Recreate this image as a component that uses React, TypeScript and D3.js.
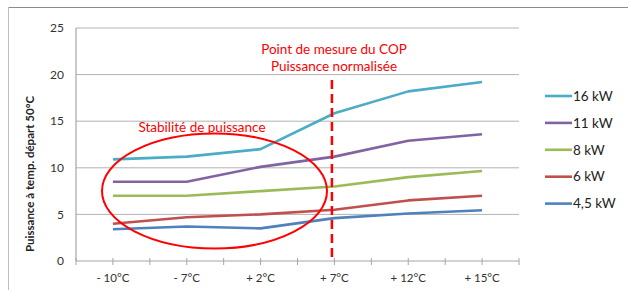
import React from "react";
import * as d3 from "d3";

const categories = ["- 10°C", "- 7°C", "+ 2°C", "+ 7°C", "+ 12°C", "+ 15°C"];
const yTicks = [0, 5, 10, 15, 20, 25];

const seriesNames = ["16 kW", "11 kW", "8 kW", "6 kW", "4,5 kW"];
const seriesColors = ["#4BACC6", "#8064A2", "#9BBB59", "#C0504D", "#4F81BD"];
const s16 = [10.9, 11.2, 12.0, 15.85, 18.2, 19.2];
const s11 = [8.5, 8.5, 10.1, 11.2, 12.9, 13.6];
const s8 = [7.0, 7.0, 7.5, 8.0, 9.0, 9.65];
const s6 = [4.0, 4.7, 5.0, 5.5, 6.5, 7.0];
const s45 = [3.4, 3.7, 3.5, 4.6, 5.1, 5.45];
const seriesValues = [s16, s11, s8, s6, s45];

const markerCategory = "+ 7°C";
const annotationLines = ["Point de mesure du COP", "Puissance normalisée"];
const ellipseLabel = "Stabilité de puissance";
const yTitle = "Puissance à temp. départ 50°C";

export default function App() {
  const W = 628, H = 290;
  const left = 76, right = 519, top = 28, bottom = 261;
  const x = d3.scaleBand().domain(categories).range([left, right]);
  const y = d3.scaleLinear().domain([0, 25]).range([bottom, top]);
  const cx = (c: string) => (x(c) as number) + x.bandwidth() / 2;
  const line = d3
    .line<number>()
    .x((_, i) => cx(categories[i]))
    .y((d) => y(d));

  const font = "Lato, 'Open Sans', sans-serif";
  const tickXs: number[] = [];
  categories.forEach((c) => {
    tickXs.push(x(c) as number);
    tickXs.push(cx(c));
  });
  tickXs.push(right);

  const mx = cx(markerCategory) - 2.5;

  return (
    <svg
      width={W}
      height={H}
      style={{ position: "absolute", left: 0, top: 0, background: "#fff" }}
      fontFamily={font}
    >
      {/* outer border */}
      <line x1={8} y1={7.5} x2={W} y2={7.5} stroke="#8c8c8c" strokeWidth={1} />
      <line x1={8.5} y1={7} x2={8.5} y2={H} stroke="#bdbdbd" strokeWidth={1} />

      {/* gridlines */}
      {yTicks.slice(1).map((t) => (
        <line key={t} x1={left} x2={right} y1={y(t)} y2={y(t)} stroke="#b3b3b3" strokeWidth={1} />
      ))}
      {/* axes */}
      <line x1={left} x2={left} y1={top} y2={bottom} stroke="#a6a6a6" strokeWidth={1.2} />
      <line x1={left} x2={right} y1={bottom} y2={bottom} stroke="#a6a6a6" strokeWidth={1.2} />
      {tickXs.map((t, i) => (
        <line key={i} x1={t} x2={t} y1={bottom - 3} y2={bottom + 4} stroke="#a6a6a6" strokeWidth={1} />
      ))}

      {/* y tick labels */}
      {yTicks.map((t) => (
        <text key={t} x={64} y={y(t)} dy="0.35em" textAnchor="end" fontSize={12} fill="#333">
          {t}
        </text>
      ))}
      {/* x tick labels */}
      {categories.map((c) => (
        <text key={c} x={cx(c)} y={282} textAnchor="middle" fontSize={11.5} fill="#333">
          {c}
        </text>
      ))}

      {/* y title */}
      <text
        transform={`translate(34, 174) rotate(-90)`}
        textAnchor="middle"
        fontSize={11.5}
        fontWeight="bold"
        fill="#222"
      >
        {yTitle}
      </text>

      {/* series */}
      {seriesValues.map((vals, i) => (
        <path
          key={seriesNames[i]}
          d={line(vals) as string}
          fill="none"
          stroke={seriesColors[i]}
          strokeWidth={2.6}
          strokeLinejoin="round"
        />
      ))}

      {/* dashed marker */}
      <line
        x1={mx}
        x2={mx}
        y1={80}
        y2={bottom}
        stroke="#ff0000"
        strokeWidth={2.5}
        strokeDasharray="9,5"
      />
      {annotationLines.map((t, i) => (
        <text key={t} x={334} y={54 + i * 17} textAnchor="middle" fontSize={13.5} fill="#ff0000">
          {t}
        </text>
      ))}

      {/* ellipse */}
      <ellipse cx={214.5} cy={191} rx={112.5} ry={57.5} fill="none" stroke="#ff0000" strokeWidth={2} />
      <text x={202} y={132} textAnchor="middle" fontSize={13.5} fill="#ff0000">
        {ellipseLabel}
      </text>

      {/* legend */}
      {seriesNames.map((n, i) => {
        const ly = 96 + i * 26.9;
        return (
          <g key={n}>
            <line x1={545} x2={572} y1={ly} y2={ly} stroke={seriesColors[i]} strokeWidth={2.6} />
            <text x={573} y={ly} dy="0.35em" fontSize={13.5} fill="#222">
              {n}
            </text>
          </g>
        );
      })}
    </svg>
  );
}
